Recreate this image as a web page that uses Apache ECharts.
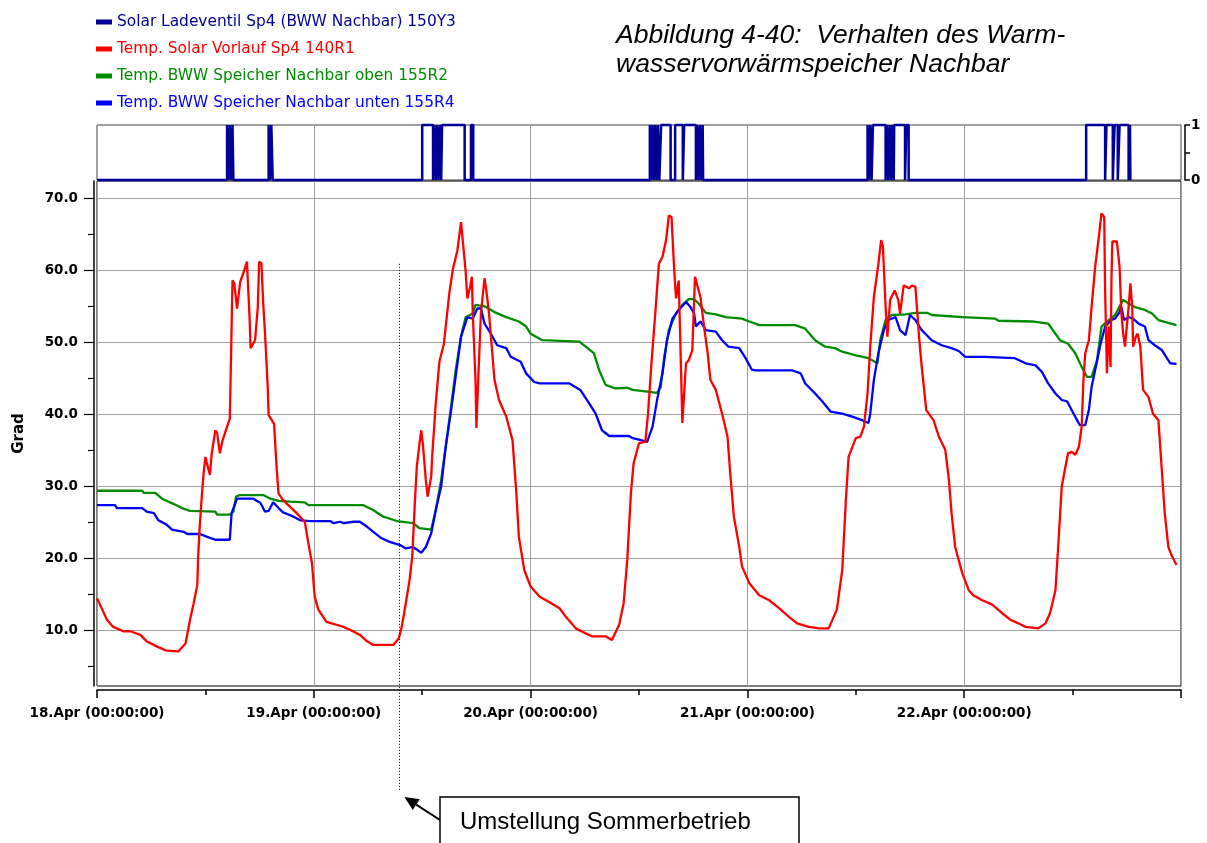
<!DOCTYPE html>
<html>
<head>
<meta charset="utf-8">
<script src="https://cdn.jsdelivr.net/npm/echarts@6/dist/echarts.min.js"></script>
<style>
  html, body { margin: 0; padding: 0; background: #ffffff; }
  #chart { width: 1207px; height: 843px; }
</style>
</head>
<body>
<div id="chart"></div>
<script>
// Time is given in hours since 18.Apr 00:00:00, temperatures in degrees C.
const firstDay = 18;
const spanHours = 120;
const tempTicks = [10, 20, 30, 40, 50, 60, 70];
const tempMinorTicks = [5, 15, 25, 35, 45, 55, 65];

const seriesNames = [
  'Solar Ladeventil Sp4 (BWW Nachbar) 150Y3',
  'Temp. Solar Vorlauf Sp4 140R1',
  'Temp. BWW Speicher Nachbar oben 155R2',
  'Temp. BWW Speicher Nachbar unten 155R4'
];
const seriesColors = ['#000099', '#ff0000', '#008c00', '#0000ff'];

// valve state changes: [hour, state]
const ladeventil = [
  [0, 0],
  [14.4, 1], [14.55, 0], [14.7, 1], [14.85, 0], [15.0, 1], [15.1, 0],
  [19.0, 1], [19.15, 0], [19.3, 1], [19.45, 0],
  [36.0, 1],
  [37.2, 0], [37.35, 1], [37.5, 0], [37.65, 1], [37.8, 0], [37.95, 1], [38.1, 0], [38.2, 1],
  [40.7, 0], [41.4, 1], [41.65, 0],
  [61.2, 1], [61.35, 0], [61.5, 1], [61.65, 0], [61.8, 1], [61.95, 0], [62.1, 1], [62.25, 0], [62.45, 1],
  [63.5, 0], [64.0, 1], [64.85, 0], [65.0, 1],
  [66.3, 0], [66.45, 1], [66.6, 0], [66.75, 1], [66.9, 0], [67.05, 1], [67.1, 0],
  [85.3, 1], [85.45, 0], [85.6, 1], [85.75, 0], [85.9, 1],
  [87.3, 0], [87.45, 1], [87.6, 0], [87.75, 1], [87.9, 0], [88.05, 1], [88.2, 0], [88.25, 1],
  [89.45, 0], [89.6, 1], [89.85, 0],
  [109.5, 1],
  [111.6, 0], [111.75, 1], [112.45, 0], [112.65, 1], [113.0, 0], [113.2, 1],
  [114.2, 0], [114.35, 1], [114.4, 0]
];

const vorlaufSp4 = [
  [0,14.5],[1.1,11.5],[1.8,10.5],[2.9,9.9],[3.7,9.9],[4.8,9.4],[5.5,8.5],[6.6,7.8],[7.7,7.2],[9.0,7.1],
  [9.8,8.2],[10.3,11.5],[10.7,13.8],[11.1,16.3],[11.2,20.3],[11.35,24.0],[11.6,28.6],[11.8,31.8],[12.0,34.1],
  [12.35,32.3],[12.5,31.6],[12.7,34.6],[13.1,37.8],[13.3,37.4],[13.6,34.6],[13.9,36.4],[14.4,38.3],[14.7,39.4],
  [14.8,45.7],[14.9,52.2],[15.0,58.6],[15.2,58.2],[15.5,54.7],[15.85,58.4],[16.2,59.6],[16.6,61.2],[16.8,61.0],
  [16.9,53.1],[17.0,49.2],[17.5,50.3],[17.8,54.9],[17.95,61.2],[18.2,61.0],[18.4,55.4],[18.6,51.2],[18.9,43.8],
  [19.0,39.9],[19.6,38.7],[19.9,32.3],[20.1,29.0],[20.6,28.1],[22.1,26.3],[23.0,25.1],[23.4,22.1],[23.8,19.3],
  [24.1,14.7],[24.5,12.9],[25.4,11.2],[26.5,10.8],[27.3,10.5],[28.0,10.1],[29.1,9.4],[29.9,8.5],[30.6,8.0],
  [32.8,8.0],[33.4,8.9],[33.7,10.3],[34.0,12.4],[34.6,17.0],[34.9,20.3],[35.2,28.1],[35.4,32.7],[35.7,36.0],
  [35.9,37.8],[36.1,35.5],[36.4,30.9],[36.6,28.6],[37.0,31.4],[37.1,34.1],[37.5,41.5],[37.9,47.3],[38.4,49.8],
  [39.0,56.8],[39.4,60.2],[39.9,62.8],[40.3,66.7],[40.5,66.5],[40.8,60.0],[41.0,56.1],[41.3,57.7],[41.5,59.1],
  [41.6,54.0],[41.9,44.8],[42.0,38.1],[42.2,44.8],[42.5,54.0],[42.9,58.9],[43.1,57.2],[43.4,54.0],[44.0,44.8],
  [44.5,42.0],[45.3,39.7],[46.0,36.4],[46.4,29.5],[46.7,23.0],[47.3,18.4],[48.0,16.1],[49.0,14.7],[50.0,14.0],
  [51.2,13.1],[51.9,11.9],[53.0,10.3],[54.1,9.6],[54.8,9.2],[56.3,9.2],[57.0,8.7],[57.8,10.8],[58.3,13.8],
  [58.7,19.8],[59.1,29.0],[59.4,33.2],[60.0,36.0],[60.7,36.2],[61.0,40.1],[61.4,47.5],[61.8,54.0],[62.2,60.9],
  [62.6,61.9],[63.0,64.2],[63.3,67.6],[63.6,67.4],[63.9,60.0],[64.1,56.1],[64.4,58.6],[64.6,58.6],[64.8,38.8],
  [65.0,42.9],[65.2,47.1],[65.5,47.5],[65.9,48.9],[66.2,59.1],[66.4,59.3],[66.8,56.3],[67.2,52.2],[67.6,48.5],
  [67.9,44.8],[68.5,43.4],[69.2,40.1],[69.8,36.9],[70.1,31.8],[70.5,25.8],[71.1,21.6],[71.4,18.9],[72.2,16.6],
  [73.3,14.9],[74.4,14.2],[75.5,13.1],[76.6,11.9],[77.5,11.0],[78.8,10.5],[79.9,10.3],[81.0,10.3],[81.9,12.9],
  [82.5,18.4],[82.9,28.1],[83.2,34.1],[84.0,36.7],[84.5,36.9],[84.9,38.3],[85.3,42.9],[85.6,49.4],[86.0,56.3],
  [86.5,60.9],[86.8,64.2],[87.0,63.3],[87.3,54.9],[87.5,50.8],[87.8,55.9],[88.3,57.2],[88.7,55.9],[88.9,54.0],
  [89.3,57.9],[89.9,57.5],[90.2,57.9],[90.6,57.7],[91.0,50.8],[91.3,46.6],[91.8,40.6],[92.6,39.2],[93.2,36.9],
  [93.9,35.1],[94.3,31.0],[94.6,26.3],[95.0,21.6],[95.8,17.9],[96.5,15.6],[97.0,14.9],[98.0,14.2],[99.1,13.6],
  [100.2,12.4],[101.1,11.5],[102.0,11.0],[102.8,10.5],[104.2,10.3],[105.0,11.0],[105.5,12.4],[106.1,15.6],
  [106.4,21.6],[106.8,30.0],[107.2,32.7],[107.5,34.6],[107.9,34.8],[108.3,34.4],[108.7,35.5],[109.0,38.3],
  [109.2,44.8],[109.4,48.5],[109.8,50.3],[110.1,54.9],[110.5,60.5],[110.9,64.6],[111.2,67.9],[111.5,67.4],
  [111.6,57.2],[111.8,45.7],[112.0,52.2],[112.2,46.6],[112.3,58.6],[112.4,64.0],[112.9,64.0],[113.2,60.5],
  [113.4,54.0],[113.6,51.2],[113.8,49.4],[114.0,52.2],[114.2,54.9],[114.4,58.2],[114.6,54.9],[114.7,49.4],
  [115.0,50.8],[115.2,51.2],[115.5,49.4],[115.8,43.4],[116.4,42.4],[116.9,40.1],[117.5,39.2],[117.9,31.8],
  [118.2,26.3],[118.6,21.6],[119.0,20.3],[119.5,19.1]
];

const speicherOben = [
  [0,29.4],[5.0,29.4],[5.2,29.1],[6.45,29.1],[7.2,28.3],[7.9,27.9],[8.8,27.4],[9.4,27.0],[10.3,26.6],[13.1,26.5],
  [13.3,26.1],[14.7,26.1],[15.1,26.5],[15.4,28.6],[15.8,28.8],[18.4,28.8],[19.2,28.3],[20.1,28.0],[21.4,27.9],
  [23.0,27.8],[23.4,27.4],[29.5,27.4],[30.6,26.7],[31.7,25.8],[33.2,25.2],[35.0,24.9],[35.7,24.2],[37.0,24.0],
  [37.5,26.7],[38.1,30.9],[38.6,35.5],[39.2,41.1],[39.7,46.1],[40.3,50.8],[40.8,53.5],[41.6,54.0],[41.9,55.2],
  [42.9,55.0],[44.0,54.2],[45.3,53.5],[46.7,52.9],[47.5,52.2],[48.0,51.2],[49.3,50.3],[53.4,50.1],[54.1,49.4],
  [55.0,48.5],[55.6,46.1],[56.3,44.1],[57.4,43.6],[58.7,43.7],[59.3,43.4],[60.7,43.2],[62.0,43.0],[62.4,43.8],
  [62.8,48.0],[63.3,51.7],[64.1,54.0],[64.8,55.2],[65.5,56.0],[66.1,56.0],[66.6,55.4],[67.4,54.1],[68.5,53.9],
  [69.6,53.5],[71.4,53.3],[72.2,52.9],[72.9,52.6],[73.3,52.4],[77.3,52.4],[78.4,51.9],[79.5,50.3],[80.6,49.4],
  [81.7,49.2],[82.5,48.7],[84.0,48.2],[85.4,47.8],[86.4,47.1],[86.7,50.3],[87.3,53.1],[88.0,53.8],[89.5,53.9],
  [90.6,54.1],[91.9,54.1],[92.4,53.8],[95.8,53.5],[99.4,53.3],[99.8,53.0],[103.5,52.9],[105.3,52.6],[106.1,51.2],
  [106.6,50.3],[107.5,49.8],[108.3,48.5],[109.0,46.6],[109.6,45.2],[110.1,45.2],[110.7,47.5],[111.2,52.2],
  [112.0,53.1],[112.7,53.8],[113.3,55.2],[113.6,55.9],[114.2,55.4],[114.9,54.9],[116.0,54.5],[116.8,54.0],
  [117.5,53.1],[118.6,52.7],[119.5,52.4]
];

const speicherUnten = [
  [0,27.4],[2.0,27.4],[2.2,27.0],[5.0,27.0],[5.5,26.5],[6.3,26.3],[6.8,25.3],[7.7,24.7],[8.3,24.0],[9.6,23.7],
  [10.0,23.4],[11.4,23.4],[12.2,23.0],[13.1,22.6],[14.7,22.6],[14.9,26.3],[15.5,28.3],[17.3,28.3],[18.1,27.7],
  [18.6,26.5],[19.0,26.6],[19.5,27.8],[20.1,27.0],[20.6,26.4],[21.6,25.9],[22.5,25.3],[23.6,25.2],[25.8,25.2],
  [26.2,24.9],[26.9,25.1],[27.3,24.9],[28.4,25.1],[29.1,25.1],[29.9,24.4],[30.8,23.5],[31.5,22.8],[32.4,22.3],
  [33.5,21.9],[34.2,21.4],[35.0,21.6],[35.9,20.8],[36.4,21.6],[37.0,23.5],[37.5,26.7],[38.1,30.0],[38.6,35.5],
  [39.2,40.6],[39.7,45.2],[40.3,50.8],[41.0,53.5],[41.6,53.3],[42.1,54.7],[42.5,54.7],[42.9,52.6],[43.6,51.2],
  [44.3,49.6],[45.3,49.2],[45.8,48.0],[46.9,47.3],[47.5,45.7],[48.4,44.5],[49.0,44.3],[52.3,44.3],[53.5,43.4],
  [54.5,41.5],[55.2,40.1],[55.9,37.8],[56.7,37.0],[58.9,37.0],[59.3,36.7],[60.0,36.5],[60.9,36.2],[61.5,38.3],
  [62.0,42.0],[62.6,45.7],[63.1,50.3],[63.7,53.3],[64.4,54.5],[65.2,55.6],[65.7,54.9],[66.1,54.0],[66.3,52.2],
  [66.8,52.9],[67.4,51.7],[68.5,51.5],[69.2,50.3],[69.9,49.4],[71.1,49.2],[71.8,47.8],[72.5,46.2],[72.9,46.1],
  [77.0,46.1],[77.9,45.7],[78.4,44.3],[79.5,42.9],[80.3,41.8],[81.2,40.4],[82.5,40.1],[83.6,39.7],[84.7,39.2],
  [85.4,38.8],[85.6,40.1],[86.0,44.8],[86.5,48.5],[87.1,51.7],[87.6,53.1],[88.4,53.5],[88.9,51.7],[89.5,51.0],
  [90.0,53.8],[90.6,53.1],[91.3,51.7],[92.4,50.3],[93.5,49.6],[94.6,49.2],[95.4,48.8],[96.1,48.0],[98.3,48.0],
  [98.5,47.8],[101.6,47.8],[102.8,47.1],[103.9,46.8],[104.6,45.9],[105.3,44.3],[106.1,42.9],[106.8,42.0],
  [107.4,41.8],[107.9,40.6],[108.8,38.5],[109.4,38.5],[109.8,40.6],[110.1,43.8],[110.6,46.8],[111.1,49.8],
  [111.6,52.2],[112.3,53.1],[112.7,53.3],[113.2,54.2],[113.4,54.9],[113.7,53.1],[114.2,53.5],[114.7,53.3],
  [115.3,52.6],[116.0,52.2],[116.4,50.3],[117.1,49.6],[117.9,48.9],[118.8,47.1],[119.5,47.0]
];

// Annotation: switch to summer operation
const switchoverHour = 33.45;
const switchoverTopTemp = 60.9;
const annotationText = 'Umstellung Sommerbetrieb';
const titleText = 'Abbildung 4-40:  Verhalten des Warm-\nwasservorwärmspeicher Nachbar';

const axisFont = { fontFamily: 'DejaVu Sans', fontWeight: 'bold', fontSize: 13.5, color: '#000' };
const gridColor = '#a0a0a0';

function dayLabel(v) {
  return (firstDay + Math.round(v / 24)) + '.Apr (00:00:00)';
}

const chart = echarts.init(document.getElementById('chart'), null, { renderer: 'canvas' });

const option = {
  backgroundColor: '#ffffff',
  animation: false,
  title: {
    text: titleText,
    left: 611,
    top: 16,
    textStyle: {
      fontFamily: 'Liberation Sans', fontStyle: 'italic', fontWeight: 'normal',
      fontSize: 26.5, lineHeight: 29, color: '#000'
    }
  },
  legend: {
    orient: 'vertical',
    left: 91,
    top: 8,
    itemWidth: 16,
    itemHeight: 5,
    itemGap: 9,
    icon: 'rect',
    selectedMode: false,
    data: seriesNames.map((n, i) => ({ name: n, textStyle: { color: seriesColors[i] } })),
    textStyle: { fontFamily: 'DejaVu Sans', fontSize: 15.4, lineHeight: 18 }
  },
  grid: [
    { left: 97, right: 26, top: 125, height: 55, show: true, borderColor: '#404040', borderWidth: 1, backgroundColor: '#fff' },
    { left: 97, right: 26, top: 181, bottom: 157, show: true, borderColor: '#000', borderWidth: 1, backgroundColor: '#fff' }
  ],
  xAxis: [
    {
      gridIndex: 0, type: 'value', min: 0, max: spanHours, interval: 24,
      axisLine: { show: false, onZero: false }, axisTick: { show: false }, axisLabel: { show: false },
      splitLine: { show: true, lineStyle: { color: gridColor, width: 1 } }
    },
    {
      gridIndex: 1, type: 'value', min: 0, max: spanHours, interval: 24,
      position: 'bottom', offset: 4,
      axisLine: { show: true, onZero: false, lineStyle: { color: '#000', width: 1.5 } },
      axisTick: { show: true, length: 8, lineStyle: { color: '#000', width: 1.5 } },
      minorTick: { show: true, splitNumber: 2, length: 5, lineStyle: { color: '#000', width: 1.5 } },
      axisLabel: Object.assign({ formatter: dayLabel, margin: 16, showMaxLabel: false }, axisFont),
      splitLine: { show: true, lineStyle: { color: gridColor, width: 1 } }
    }
  ],
  yAxis: [
    {
      gridIndex: 0, type: 'value', min: 0, max: 1, interval: 0.5,
      position: 'right', offset: 4,
      axisLine: { show: true, onZero: false, lineStyle: { color: '#000', width: 1.5 } },
      axisTick: { show: true, length: 5, lineStyle: { color: '#000', width: 1.5 } },
      axisLabel: Object.assign({ margin: 6, formatter: v => (v === 0 || v === 1) ? String(v) : '' }, axisFont),
      splitLine: { show: false }
    },
    {
      gridIndex: 1, type: 'value', min: 2.3, max: 72.4, splitNumber: 7,
      position: 'left', offset: 3,
      name: 'Grad', nameLocation: 'middle', nameGap: 67, nameRotate: 90,
      nameTextStyle: { fontFamily: 'DejaVu Sans', fontWeight: 'bold', fontSize: 15, color: '#000' },
      axisLine: { show: true, onZero: false, lineStyle: { color: '#000', width: 1.5 } },
      axisTick: { show: true, length: 10, customValues: tempTicks, lineStyle: { color: '#000', width: 1.2 } },
      axisLabel: Object.assign({
        customValues: tempTicks, margin: 16,
        formatter: v => v.toFixed(1)
      }, axisFont),
      splitLine: { show: true, lineStyle: { color: gridColor, width: 1 } }
    },
    {
      gridIndex: 1, type: 'value', min: 2.3, max: 72.4, splitNumber: 14,
      position: 'left', offset: 3,
      axisLine: { show: false, onZero: false },
      axisTick: { show: true, length: 6, customValues: tempMinorTicks, lineStyle: { color: '#000', width: 1.2 } },
      axisLabel: { show: false },
      splitLine: { show: false }
    }
  ],
  series: [
    {
      name: seriesNames[0], type: 'line', xAxisIndex: 0, yAxisIndex: 0,
      step: 'end', data: ladeventil, showSymbol: false, symbol: 'none', clip: false, z: 3,
      lineStyle: { color: seriesColors[0], width: 2.5 }, itemStyle: { color: seriesColors[0] }
    },
    {
      name: seriesNames[2], type: 'line', xAxisIndex: 1, yAxisIndex: 1,
      data: speicherOben, showSymbol: false, symbol: 'none', z: 3,
      lineStyle: { color: seriesColors[2], width: 2.3 }, itemStyle: { color: seriesColors[2] }
    },
    {
      name: seriesNames[3], type: 'line', xAxisIndex: 1, yAxisIndex: 1,
      data: speicherUnten, showSymbol: false, symbol: 'none', z: 4,
      lineStyle: { color: seriesColors[3], width: 2.3 }, itemStyle: { color: seriesColors[3] }
    },
    {
      name: seriesNames[1], type: 'line', xAxisIndex: 1, yAxisIndex: 1,
      data: vorlaufSp4, showSymbol: false, symbol: 'none', z: 5,
      lineStyle: { color: seriesColors[1], width: 2.3 }, itemStyle: { color: seriesColors[1] }
    }
  ]
};

chart.setOption(option);

// Annotation: dotted marker at the switchover time, arrow and text box below the axis
const markTop = chart.convertToPixel({ gridIndex: 1 }, [switchoverHour, switchoverTopTemp]);
const dotX = Math.round(markTop[0]) + 0.5;
const boxX = 440, boxY = 797, boxW = 359, boxH = 70;
const tipX = dotX + 5, tipY = boxY;
const tailX = boxX, tailY = 820;
const ang = Math.atan2(tipY - tailY, tipX - tailX);
const headLen = 14, headHalf = 6.5;
const bx = tipX - headLen * Math.cos(ang), by = tipY - headLen * Math.sin(ang);
const px = -Math.sin(ang) * headHalf, py = Math.cos(ang) * headHalf;

chart.setOption({
  graphic: [
    {
      type: 'line', silent: true, z: 10,
      shape: { x1: dotX, y1: markTop[1], x2: dotX, y2: 791 },
      style: { stroke: '#000', lineWidth: 1, lineDash: [1, 2] }
    },
    {
      type: 'line', silent: true, z: 10,
      shape: { x1: tailX, y1: tailY, x2: bx, y2: by },
      style: { stroke: '#000', lineWidth: 2 }
    },
    {
      type: 'polygon', silent: true, z: 10,
      shape: { points: [[tipX, tipY], [bx + px, by + py], [bx - px, by - py]] },
      style: { fill: '#000' }
    },
    {
      type: 'rect', silent: true, z: 10,
      shape: { x: boxX, y: boxY, width: boxW, height: boxH },
      style: { fill: '#fff', stroke: '#000', lineWidth: 1.5 }
    },
    {
      type: 'text', silent: true, z: 11,
      x: boxX + 20, y: boxY + 25,
      style: {
        text: annotationText, fill: '#000',
        font: 'normal 24px "Liberation Sans", Arial, sans-serif',
        verticalAlign: 'middle', align: 'left'
      }
    }
  ]
});
</script>
</body>
</html>
